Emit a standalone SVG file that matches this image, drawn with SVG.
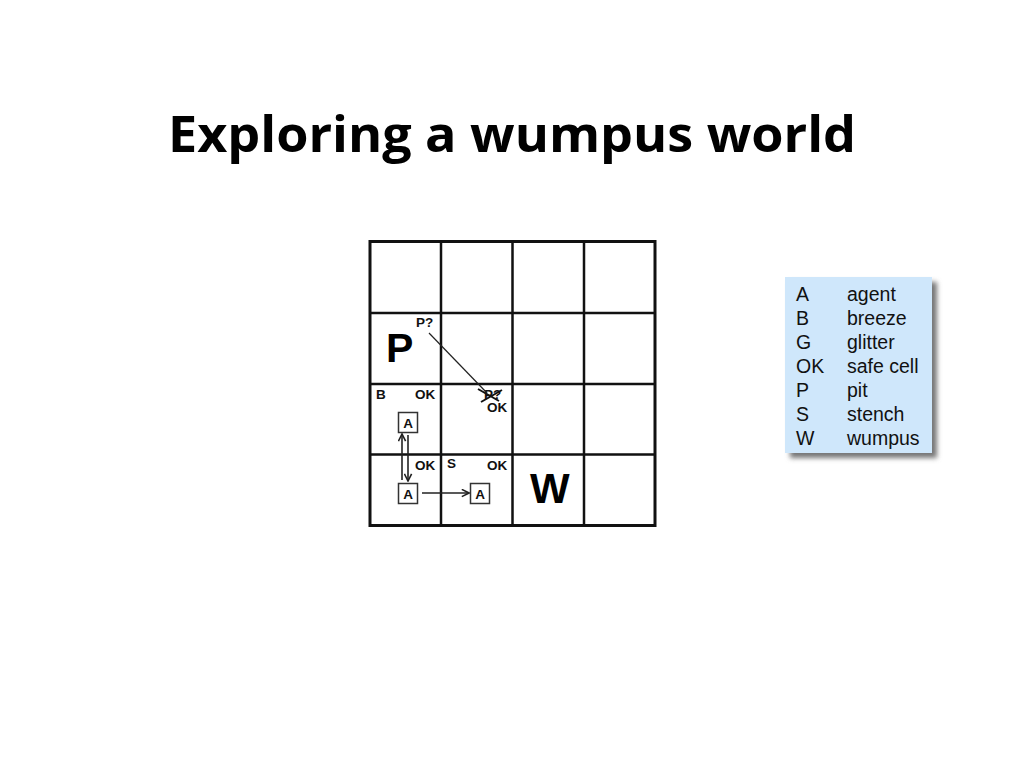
<svg xmlns="http://www.w3.org/2000/svg" width="1024" height="768" viewBox="0 0 1024 768">
<style>
.title{font-family:"Open Sans","Liberation Sans",sans-serif;font-weight:bold;font-size:50px;fill:#000}
.lbl{font-family:"Liberation Sans",Arial,sans-serif;font-weight:bold;font-size:13.5px;fill:#111}
.big{font-family:"Liberation Sans",Arial,sans-serif;font-weight:bold;fill:#000}
.leg{font-family:"Liberation Sans",Arial,sans-serif;font-size:19.5px;fill:#111}
.grid{stroke:#111;stroke-width:2.5;fill:none}
.abox{fill:#fff;stroke:#333;stroke-width:1.5}
.conn{stroke:#222;stroke-width:1.6;fill:none}
</style>
<defs>
<marker id="chev" viewBox="0 0 10 10" refX="9" refY="5" markerWidth="9" markerHeight="9" markerUnits="userSpaceOnUse" orient="auto">
<path d="M1,1 L9,5 L1,9" fill="none" stroke="#222" stroke-width="1.8"/>
</marker>
<filter id="sh" x="-20%" y="-20%" width="140%" height="140%">
<feGaussianBlur stdDeviation="2.5"/>
</filter>
</defs>
<rect width="1024" height="768" fill="#fff"/>
<text class="title" x="512" y="152" text-anchor="middle" textLength="688" lengthAdjust="spacingAndGlyphs">Exploring a wumpus world</text>

<g id="grid">
<rect x="370" y="241.5" width="285" height="284" fill="#fff" stroke="#111" stroke-width="3"/>
<path class="grid" d="M441,241.5V525.5M512.5,241.5V525.5M584,241.5V525.5M370,313H655M370,384H655M370,454.5H655"/>
</g>

<g id="cell-1-3">
<text class="big" x="386" y="362" font-size="41">P</text>
<text class="lbl" x="416" y="327" font-size="12">P?</text>
</g>
<g id="cell-2-2">
<text class="lbl" x="484" y="399" font-size="12" fill="#333">P?</text>
<path d="M478,389 L499,401 M481,402 L502,390" stroke="#111" stroke-width="2" fill="none"/>
<text class="lbl" x="487" y="412">OK</text>
</g>
<g id="cell-1-2">
<text class="lbl" x="376" y="399">B</text>
<text class="lbl" x="415" y="399">OK</text>
<rect id="agent-12" class="abox" x="398.5" y="412.5" width="19" height="20"/>
<text class="lbl" x="408" y="427.5" text-anchor="middle" font-size="12.5">A</text>
</g>
<g id="cell-1-1">
<text class="lbl" x="415" y="470">OK</text>
<rect class="abox" x="398.5" y="483.5" width="19" height="20"/>
<text class="lbl" x="408" y="498.5" text-anchor="middle" font-size="12.5">A</text>
</g>
<g id="cell-2-1">
<text class="lbl" x="447" y="468">S</text>
<text class="lbl" x="487" y="470">OK</text>
<rect class="abox" x="470.5" y="483.5" width="19" height="20"/>
<text class="lbl" x="480" y="498.5" text-anchor="middle" font-size="12.5">A</text>
</g>
<g id="cell-3-1">
<text class="big" x="530" y="503" font-size="42">W</text>
</g>

<g id="connectors">
<line class="conn" x1="402" y1="480" x2="402" y2="434" marker-end="url(#chev)"/>
<line class="conn" x1="408" y1="435" x2="408" y2="481" marker-end="url(#chev)"/>
<line class="conn" x1="422" y1="493" x2="469" y2="493" marker-end="url(#chev)"/>
<line x1="429" y1="333" x2="487" y2="393" stroke="#222" stroke-width="1.2"/>
</g>

<g id="legend">
<rect x="790" y="282" width="147" height="176" fill="#777" filter="url(#sh)"/>
<rect x="785" y="277" width="147" height="176" fill="#cfe7fb"/>
<text class="leg" x="796" y="301">A</text><text class="leg" x="847" y="301">agent</text>
<text class="leg" x="796" y="325">B</text><text class="leg" x="847" y="325">breeze</text>
<text class="leg" x="796" y="349">G</text><text class="leg" x="847" y="349">glitter</text>
<text class="leg" x="796" y="373">OK</text><text class="leg" x="847" y="373">safe cell</text>
<text class="leg" x="796" y="397">P</text><text class="leg" x="847" y="397">pit</text>
<text class="leg" x="796" y="421">S</text><text class="leg" x="847" y="421">stench</text>
<text class="leg" x="796" y="445">W</text><text class="leg" x="847" y="445">wumpus</text>
</g>
</svg>
